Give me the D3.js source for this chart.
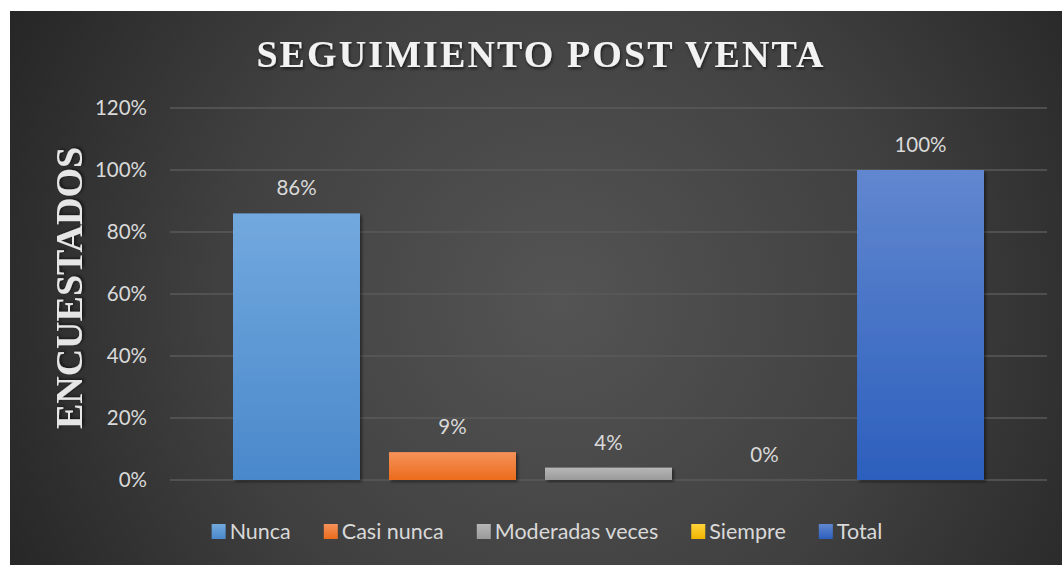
<!DOCTYPE html>
<html>
<head>
<meta charset="utf-8">
<script src="https://d3js.org/d3.v7.min.js"></script>
<style>
  body { margin: 0; background: #fff; }
  svg { display: block; }
</style>
</head>
<body>
<div id="chart"></div>
<script>
  // data
  var series = ["Nunca", "Casi nunca", "Moderadas veces", "Siempre", "Total"];
  var values = [0.86, 0.09, 0.04, 0.00, 1.00];
  var labels = ["86%", "9%", "4%", "0%", "100%"];
  var yTicks = [0, 0.2, 0.4, 0.6, 0.8, 1.0, 1.2];

  // top / bottom colours of each bar gradient
  var colTop = ["#72a9de", "#f5925a", "#b7b7b7", "#ffd43b", "#6187cf"];
  var colBot = ["#4a88cb", "#ec6c1c", "#9a9a9a", "#f0b400", "#2c5fbd"];

  var width = 1062, height = 565;
  var box = { left: 10, top: 11 };
  var margin = { top: 108, right: 15, bottom: 85, left: 170 };

  var svg = d3.select("#chart").append("svg")
    .attr("width", width)
    .attr("height", height);

  var defs = svg.append("defs");

  var bg = defs.append("radialGradient")
    .attr("id", "bg")
    .attr("gradientUnits", "userSpaceOnUse")
    .attr("cx", 560).attr("cy", 300).attr("r", 620);
  bg.append("stop").attr("offset", "0").attr("stop-color", "#545454");
  bg.append("stop").attr("offset", "0.55").attr("stop-color", "#404040");
  bg.append("stop").attr("offset", "1").attr("stop-color", "#262626");

  series.forEach(function (s, i) {
    var g = defs.append("linearGradient")
      .attr("id", "grad" + i)
      .attr("x1", 0).attr("y1", 0).attr("x2", 0).attr("y2", 1);
    g.append("stop").attr("offset", "0").attr("stop-color", colTop[i]);
    g.append("stop").attr("offset", "1").attr("stop-color", colBot[i]);
  });

  var shadow = defs.append("filter").attr("id", "shadow")
    .attr("x", "-10%").attr("y", "-10%").attr("width", "130%").attr("height", "130%");
  shadow.append("feDropShadow")
    .attr("dx", 2).attr("dy", 2).attr("stdDeviation", 1.5)
    .attr("flood-color", "#000").attr("flood-opacity", 0.45);

  var tshadow = defs.append("filter").attr("id", "tshadow");
  tshadow.append("feDropShadow")
    .attr("dx", 1).attr("dy", 2).attr("stdDeviation", 1.5)
    .attr("flood-color", "#000").attr("flood-opacity", 0.6);

  // chart area background
  svg.append("rect")
    .attr("x", box.left).attr("y", box.top)
    .attr("width", width - box.left).attr("height", height - box.top)
    .attr("fill", "url(#bg)");

  var x0 = margin.left, x1 = width - margin.right;
  var y = d3.scaleLinear().domain([0, 1.2]).range([480, margin.top]);

  // clustered bars: one category, five series
  var x = d3.scaleBand()
    .domain(series)
    .range([x0 + 63, x1 - 63])
    .paddingInner(0.186);

  // gridlines
  svg.append("g")
    .selectAll("line")
    .data(yTicks)
    .join("line")
    .attr("x1", x0).attr("x2", x1)
    .attr("y1", d => y(d)).attr("y2", d => y(d))
    .attr("stroke", "#5a5a5a")
    .attr("stroke-width", 1.5);

  // y axis labels
  var yAxis = d3.axisLeft(y)
    .tickValues(yTicks)
    .tickFormat(d3.format(".0%"))
    .tickSize(0)
    .tickPadding(23);

  svg.append("g")
    .attr("transform", "translate(" + x0 + ",0)")
    .call(yAxis)
    .call(g => g.select(".domain").remove())
    .selectAll("text")
    .attr("fill", "#d9d9d9")
    .style("font-family", "Lato, 'Open Sans', sans-serif")
    .style("font-size", "20.5px");

  // bars
  svg.append("g")
    .selectAll("rect")
    .data(values)
    .join("rect")
    .attr("x", (d, i) => x(series[i]))
    .attr("y", d => y(d))
    .attr("width", x.bandwidth())
    .attr("height", d => y(0) - y(d))
    .attr("fill", (d, i) => "url(#grad" + i + ")")
    .attr("filter", "url(#shadow)");

  // data labels
  svg.append("g")
    .selectAll("text")
    .data(values)
    .join("text")
    .attr("x", (d, i) => x(series[i]) + x.bandwidth() / 2)
    .attr("y", d => y(d) - 18)
    .attr("text-anchor", "middle")
    .attr("fill", "#d9d9d9")
    .style("font-family", "Lato, 'Open Sans', sans-serif")
    .style("font-size", "20.5px")
    .text((d, i) => labels[i]);

  // title
  svg.append("text")
    .attr("x", 541)
    .attr("y", 67)
    .attr("text-anchor", "middle")
    .attr("fill", "#f2f2f2")
    .attr("filter", "url(#tshadow)")
    .style("font-family", "'Liberation Serif', 'Times New Roman', serif")
    .style("font-weight", "bold")
    .style("font-size", "38px")
    .style("letter-spacing", "2.1px")
    .text("SEGUIMIENTO POST VENTA");

  // y axis title
  svg.append("text")
    .attr("transform", "translate(82,288) rotate(-90)")
    .attr("text-anchor", "middle")
    .attr("fill", "#e6e6e6")
    .attr("filter", "url(#tshadow)")
    .style("font-family", "'Liberation Serif', 'Times New Roman', serif")
    .style("font-weight", "bold")
    .style("font-size", "38px")
    .text("ENCUESTADOS");

  // legend
  var legend = svg.append("g").attr("transform", "translate(0,531)");
  var items = legend.selectAll("g")
    .data(series)
    .join("g");

  items.append("rect")
    .attr("x", 0).attr("y", -7)
    .attr("width", 14).attr("height", 15)
    .attr("fill", (d, i) => "url(#grad" + i + ")");

  items.append("text")
    .attr("x", 18)
    .attr("y", 8)
    .attr("fill", "#d9d9d9")
    .style("font-family", "Lato, 'Open Sans', sans-serif")
    .style("font-size", "21.5px")
    .text(d => d);

  var widths = [];
  items.each(function () {
    widths.push(18 + d3.select(this).select("text").node().getComputedTextLength());
  });
  var gap = 33;
  var total = d3.sum(widths) + gap * (widths.length - 1);
  var pos = 547 - total / 2;
  items.attr("transform", function (d, i) {
    var t = "translate(" + pos + ",0)";
    pos += widths[i] + gap;
    return t;
  });
</script>
</body>
</html>
